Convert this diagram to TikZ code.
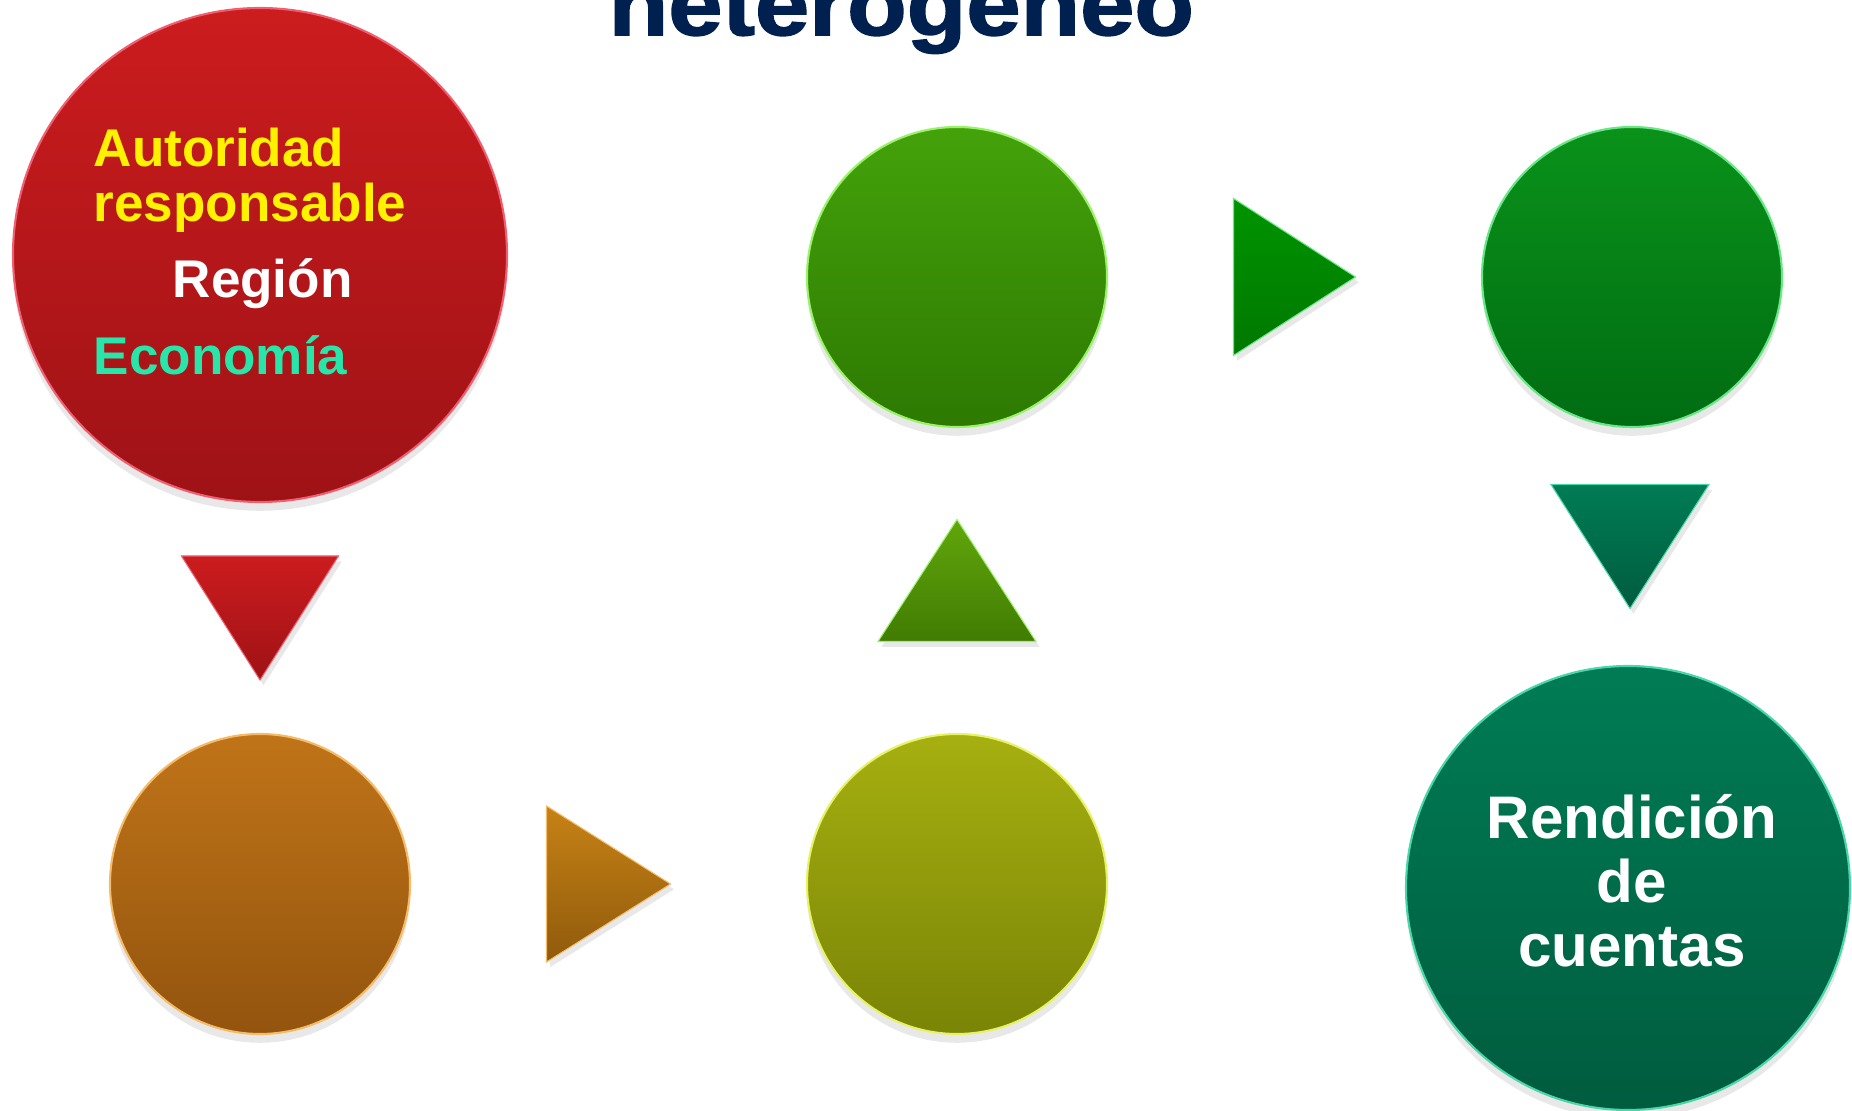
\documentclass[tikz,border=0pt]{standalone}
\usepackage{fontspec}
\setmainfont{Liberation Sans}
\newfontfamily\titlefont[FakeStretch=1.11,BoldFeatures={FakeBold=1.8}]{Liberation Sans}
\usetikzlibrary{calc,shadows}

\definecolor{titleBlue}{HTML}{002050}
\definecolor{redTop}{HTML}{CC1C1E}
\definecolor{redBot}{HTML}{9E1216}
\definecolor{redRim}{HTML}{EE6070}
\definecolor{brownTop}{HTML}{C07418}
\definecolor{brownBot}{HTML}{93540E}
\definecolor{brownRim}{HTML}{F4BC6A}
\definecolor{oliveTop}{HTML}{A6B010}
\definecolor{oliveBot}{HTML}{7A8406}
\definecolor{oliveRim}{HTML}{E6F26A}
\definecolor{greenTop}{HTML}{44A20A}
\definecolor{greenBot}{HTML}{2D7902}
\definecolor{greenRim}{HTML}{9AF26A}
\definecolor{dgreenTop}{HTML}{0A921A}
\definecolor{dgreenBot}{HTML}{006C12}
\definecolor{dgreenRim}{HTML}{6AE686}
\definecolor{tealTop}{HTML}{007C54}
\definecolor{tealBot}{HTML}{005C3E}
\definecolor{tealRim}{HTML}{4AD6A8}
\definecolor{ecoText}{HTML}{28E6AA}

\tikzstyle{ball}=[shape=circle,inner sep=0pt,outer sep=0pt,line width=0.6pt,
  drop shadow={shadow xshift=0pt,shadow yshift=-2.5pt,opacity=0.18}]
\tikzstyle{tri}=[line width=0.3pt,
  drop shadow={shadow xshift=1pt,shadow yshift=-1.5pt,opacity=0.18}]
\tikzstyle{redText}=[inner sep=0pt,anchor=base west,font=\fontsize{15.1}{17}\selectfont\bfseries]

\begin{document}
\begin{tikzpicture}
        \useasboundingbox (0,0) rectangle (18.52,11.11);
        \clip (0,0) rectangle (18.52,11.11);

        % title, cut by the top edge
        \node[inner sep=0pt,anchor=base west,text=titleBlue,font=\titlefont\fontsize{25}{28}\selectfont\bfseries] (titulo) at (6.08,10.76) {heterogeneo};

        % circles
        \node[ball,minimum size=4.94cm,top color=redTop,bottom color=redBot,draw=redRim] (autoridad) at (2.60,8.56) {};
        \node[ball,minimum size=3.00cm,top color=brownTop,bottom color=brownBot,draw=brownRim] (paso1) at (2.60,2.27) {};
        \node[ball,minimum size=3.00cm,top color=oliveTop,bottom color=oliveBot,draw=oliveRim] (paso2) at (9.57,2.27) {};
        \node[ball,minimum size=3.00cm,top color=greenTop,bottom color=greenBot,draw=greenRim] (paso3) at (9.57,8.34) {};
        \node[ball,minimum size=3.00cm,top color=dgreenTop,bottom color=dgreenBot,draw=dgreenRim] (paso4) at (16.32,8.34) {};
        \node[ball,minimum size=4.44cm,top color=tealTop,bottom color=tealBot,draw=tealRim] (rendicion) at (16.28,2.23) {};

        % texts
        \node[redText,text=yellow] (autoridadTxt) at (0.93,9.44) {Autoridad};
        \node[redText,text=yellow] (responsableTxt) at (0.93,8.89) {responsable};
        \node[redText,text=white] (regionTxt) at (1.72,8.13) {Región};
        \node[redText,text=ecoText] (economiaTxt) at (0.93,7.36) {Economía};
        \node[inner sep=0pt,align=center,text=white,font=\fontsize{17.1}{18.2}\selectfont\bfseries] (rendicionTxt) at (16.32,2.30) {Rendición\\de\\cuentas};

        % triangles between the circles
        \coordinate (a1) at ($(autoridad.south)!0.5!(paso1.north)$);
        \coordinate (a2) at ($(paso1.east)!0.5!(paso2.west)$);
        \coordinate (a3) at ($(paso2.north)!0.5!(paso3.south)$);
        \coordinate (a4) at ($(paso3.east)!0.5!(paso4.west)$);
        \coordinate (a5) at ($(paso4.south)!0.5!(rendicion.north)$);

        \draw[tri,top color=redTop,bottom color=redBot,draw=redRim] ([shift={(-0.785,0.62)}]a1) -- ([shift={(0.785,0.62)}]a1) -- ([yshift=-0.62cm]a1) -- cycle;
        \draw[tri,top color=brownTop!90!yellow,bottom color=brownBot!85!olive,draw=brownRim] ([shift={(-0.62,0.78)}]a2) -- ([xshift=0.62cm]a2) -- ([shift={(-0.62,-0.78)}]a2) -- cycle;
        \draw[tri,top color=greenTop!70!oliveTop,bottom color=greenBot!75!oliveBot,draw=greenRim] ([yshift=0.61cm]a3) -- ([shift={(0.79,-0.61)}]a3) -- ([shift={(-0.79,-0.61)}]a3) -- cycle;
        \draw[tri,top color=green!58!black,bottom color=green!47!black,draw=dgreenRim] ([shift={(-0.61,0.785)}]a4) -- ([xshift=0.61cm]a4) -- ([shift={(-0.61,-0.785)}]a4) -- cycle;
        \draw[tri,top color=tealTop,bottom color=tealBot,draw=tealRim] ([shift={(-0.79,0.62)}]a5) -- ([shift={(0.79,0.62)}]a5) -- ([yshift=-0.62cm]a5) -- cycle;
    \end{tikzpicture}
\end{document}
